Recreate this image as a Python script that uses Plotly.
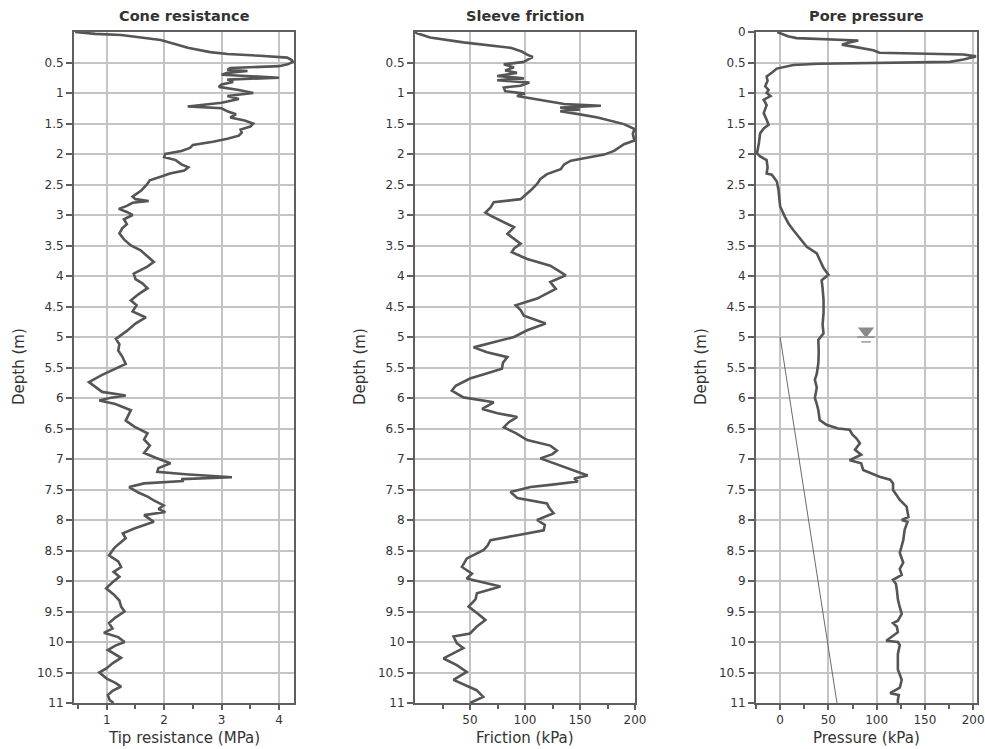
import plotly.graph_objects as go

# ---------------- data ----------------
cone_depth = [0.00,0.03,0.05,0.08,0.13,0.20,0.26,0.33,0.36,0.39,0.42,0.46,0.49,0.53,0.56,0.59,0.62,0.64,0.67,0.70,
              0.72,0.75,0.78,0.82,0.86,0.90,0.95,1.00,1.05,1.10,1.16,1.22,1.25,1.30,1.35,1.40,1.45,1.50,1.55,1.60,
              1.65,1.70,1.75,1.80,1.85,1.90,1.95,2.00,2.05,2.10,2.17,2.22,2.27,2.32,2.37,2.43,2.50,2.60,2.70,2.74,
              2.77,2.80,2.85,2.90,2.95,3.00,3.07,3.15,3.22,3.30,3.40,3.50,3.58,3.68,3.77,3.85,3.96,4.05,4.12,4.20,
              4.30,4.40,4.48,4.58,4.68,4.78,4.90,5.03,5.12,5.22,5.32,5.44,5.52,5.62,5.74,5.82,5.90,5.96,6.00,6.04,
              6.10,6.20,6.28,6.37,6.47,6.58,6.68,6.78,6.90,6.98,7.07,7.15,7.21,7.25,7.30,7.33,7.36,7.40,7.46,7.55,
              7.62,7.68,7.76,7.82,7.87,7.92,8.03,8.10,8.14,8.22,8.30,8.40,8.46,8.58,8.68,8.77,8.85,8.93,9.02,9.12,
              9.22,9.32,9.42,9.50,9.60,9.69,9.78,9.85,9.92,10.00,10.06,10.13,10.20,10.26,10.35,10.43,10.50,10.60,
              10.67,10.73,10.80,10.87,10.95,11.00]
cone_qc = [0.45,0.8,1.25,1.5,1.94,2.2,2.41,2.8,3.1,3.67,4.14,4.22,4.24,4.15,4.0,3.15,3.1,3.45,3.1,3.0,
           3.5,4.0,3.1,3.2,3.0,2.95,3.3,3.55,3.1,3.3,3.0,2.41,3.0,3.1,3.25,3.15,3.4,3.55,3.5,3.33,
           3.35,3.3,3.1,2.85,2.5,2.45,2.3,2.02,2.0,2.2,2.3,2.42,2.35,2.1,1.95,1.75,1.7,1.6,1.45,1.5,
           1.73,1.45,1.35,1.21,1.35,1.45,1.3,1.35,1.27,1.22,1.3,1.42,1.59,1.72,1.82,1.7,1.47,1.5,1.62,1.71,
           1.55,1.42,1.52,1.45,1.68,1.5,1.35,1.16,1.22,1.2,1.27,1.33,1.15,0.92,0.69,0.8,0.92,1.33,1.05,0.87,
           1.15,1.42,1.38,1.33,1.48,1.71,1.65,1.75,1.65,1.85,2.11,1.9,1.88,2.37,3.18,2.3,2.34,1.65,1.39,1.55,
           1.72,1.82,1.99,1.9,2.02,1.65,1.82,1.6,1.48,1.28,1.33,1.2,1.13,1.04,1.2,1.25,1.12,1.22,1.1,0.99,
           1.12,1.22,1.25,1.31,1.15,1.04,1.1,0.95,1.2,1.31,1.15,1.02,1.15,1.25,1.1,1.0,0.87,1.0,
           1.15,1.25,1.1,1.02,1.05,1.12]

fric_depth = [0.00,0.02,0.09,0.17,0.26,0.32,0.37,0.41,0.45,0.49,0.53,0.58,0.63,0.67,0.72,0.76,0.79,0.83,0.88,0.91,
              0.97,1.01,1.05,1.09,1.18,1.21,1.24,1.27,1.30,1.35,1.40,1.51,1.59,1.67,1.78,1.84,1.95,2.01,2.11,2.17,
              2.25,2.33,2.41,2.49,2.60,2.74,2.79,2.88,2.96,3.01,3.12,3.20,3.31,3.42,3.47,3.55,3.61,3.72,3.83,3.92,
              3.99,4.10,4.21,4.37,4.48,4.56,4.65,4.78,4.89,5.00,5.10,5.17,5.25,5.33,5.42,5.52,5.60,5.68,5.80,5.88,
              5.99,6.07,6.18,6.25,6.31,6.40,6.48,6.58,6.69,6.78,6.86,6.92,6.99,7.06,7.13,7.20,7.27,7.32,7.37,7.42,
              7.46,7.54,7.64,7.73,7.80,7.89,8.00,8.08,8.17,8.25,8.33,8.42,8.49,8.63,8.77,8.88,8.96,9.09,9.20,9.30,
              9.42,9.55,9.64,9.75,9.86,9.91,10.02,10.10,10.18,10.27,10.38,10.49,10.62,10.70,10.79,10.90,11.00]
fric_fs = [0,2,13.7,44,87,97,102,107,103,99,80.7,90,82,92.7,74.7,99,74.7,104,96,80.7,
           82,100,92.7,105,135.6,169,132,150,132,150,166,190,199.5,198,199.5,190,181,172,141.7,135.6,
           132.5,120,114,111,105,96,71.6,68.6,64,68.6,80.7,90,84,93,96,90,88,102,123,131,
           137,123,128,111,91.5,96,99,118.8,102,90,68,53.3,65.5,84,80,79,65,50,37,33.5,
           44,71.6,61,75,93,85,80.7,92,102,123,129,125,114,125,135.6,145,157,144.7,148,125,
           105,86.8,93,120,122,126,111,118,117,93,68.6,66,62.5,47.2,42.7,51.8,47,77.7,56.3,55,
           48.7,58,64,56,50,35,38,44,35,25.9,38,47,35,45,56,62,50]

pore_depth = [0.00,0.03,0.07,0.10,0.12,0.13,0.14,0.17,0.21,0.24,0.30,0.34,0.35,0.37,0.40,0.45,0.49,0.50,0.52,0.54,
              0.60,0.66,0.73,0.80,0.89,0.95,1.00,1.05,1.11,1.20,1.28,1.33,1.44,1.52,1.58,1.66,1.82,1.99,2.04,2.10,
              2.22,2.32,2.34,2.45,2.59,2.72,2.86,3.03,3.15,3.25,3.35,3.41,3.52,3.63,3.79,3.87,3.98,4.07,4.20,4.39,
              4.60,4.80,4.94,5.05,5.25,5.43,5.60,5.70,5.83,6.00,6.10,6.20,6.36,6.44,6.50,6.52,6.60,6.66,6.74,6.85,
              6.93,7.02,7.07,7.18,7.29,7.34,7.40,7.51,7.60,7.67,7.78,7.95,8.00,8.03,8.16,8.33,8.54,8.70,8.80,8.90,
              8.98,9.05,9.15,9.30,9.43,9.54,9.65,9.69,9.75,9.84,9.98,10.00,10.05,10.20,10.30,10.45,10.62,10.75,10.84,10.87,
              10.95,11.00]
pore_u = [-3,2,8,17,60,70,81,72,64,76,96.5,103,145,190,203,190,176,117,40,13.8,
          -3.5,-8,-14,-13,-15.5,-12,-14,-10,-17,-14,-15.5,-17,-14,-12,-17,-20.7,-22,-24,-20.7,-14,
          -13,-14,-8.6,-3.4,-1.7,-1,0,5,9,13.8,19,22,27.6,38,43,45,50,43,44,45,
          45,44,45,39.6,40,39.6,38,36,38,36,38,39.6,41,48,60,72,75,79,82.7,77.6,
          84,72,84,86,103,114,117,117,121,124,131,133,126,132,129,127.6,124,127.6,124,126,
          117,120,121,122,124,126,122,117,121,122,110,122,124,122,122,122,126,124,114,123,
          122,122]

# hydrostatic line and water table marker
hydro_depth = [5.0, 11.0]
hydro_u = [0.0, 58.9]
water_table_depth = 5.0
water_marker_u = 89.0

depth_ticks_a = [0.5 * i for i in range(1, 23)]
depth_ticks_b = [0.5 * i for i in range(0, 23)]
cone_ticks = [1, 2, 3, 4]
fric_ticks = [50, 100, 150, 200]
pore_ticks = [0, 50, 100, 150, 200]

titles = ["Cone resistance", "Sleeve friction", "Pore pressure"]
xtitles = ["Tip resistance (MPa)", "Friction (kPa)", "Pressure (kPa)"]

# ---------------- style ----------------
W, H = 985, 749
FONT = "DejaVu Sans"
TXT = "#333333"
LINE = "#555555"
GRID = "#c4c4c4"
AX = "#5f5f5f"

panels_px = [(74, 294), (415, 635), (756, 977)]
top_px, bot_px = 32, 703
ydom = [1 - bot_px / H, 1 - top_px / H]

fig = go.Figure()
fig.add_trace(go.Scatter(x=cone_qc, y=cone_depth, mode="lines", line=dict(color=LINE, width=2.6),
                         xaxis="x", yaxis="y", showlegend=False))
fig.add_trace(go.Scatter(x=fric_fs, y=fric_depth, mode="lines", line=dict(color=LINE, width=2.6),
                         xaxis="x2", yaxis="y2", showlegend=False))
fig.add_trace(go.Scatter(x=hydro_u, y=hydro_depth, mode="lines", line=dict(color="#6a6a6a", width=1),
                         xaxis="x3", yaxis="y3", showlegend=False))
fig.add_trace(go.Scatter(x=pore_u, y=pore_depth, mode="lines", line=dict(color=LINE, width=2.6),
                         xaxis="x3", yaxis="y3", showlegend=False))
# water table symbol
fig.add_trace(go.Scatter(x=[water_marker_u], y=[water_table_depth - 0.1], mode="markers",
                         marker=dict(symbol="triangle-down", size=14, color="#8a8a8a"),
                         xaxis="x3", yaxis="y3", showlegend=False))
fig.add_trace(go.Scatter(x=[water_marker_u - 9, water_marker_u + 9], y=[water_table_depth, water_table_depth],
                         mode="lines", line=dict(color="#9a9a9a", width=2),
                         xaxis="x3", yaxis="y3", showlegend=False))
fig.add_trace(go.Scatter(x=[water_marker_u - 5, water_marker_u + 5],
                         y=[water_table_depth + 0.08, water_table_depth + 0.08],
                         mode="lines", line=dict(color="#9a9a9a", width=1.5),
                         xaxis="x3", yaxis="y3", showlegend=False))

tickfont = dict(family=FONT, size=12, color=TXT)


def xaxis(dom, rng, ticks, minor_dtick, minor_start):
    return dict(domain=dom, range=rng, tickvals=ticks, ticks="outside", ticklen=5, tickwidth=1.5,
                tickcolor=AX, showgrid=True, gridcolor=GRID, gridwidth=1.5, zeroline=False,
                showline=True, linecolor=AX, linewidth=2, mirror=True, tickfont=tickfont,
                minor=dict(tick0=minor_start, dtick=minor_dtick, ticks="outside", ticklen=4,
                           tickwidth=1.5, tickcolor=AX, showgrid=False),
                automargin=False, fixedrange=True)


def yaxis(anchor, ticks):
    return dict(domain=ydom, range=[11, 0], tickvals=ticks, ticks="outside", ticklen=6, tickwidth=1.5,
                tickcolor=AX, showgrid=True, gridcolor=GRID, gridwidth=1.5, zeroline=False,
                showline=True, linecolor=AX, linewidth=2, mirror=True, tickfont=tickfont,
                anchor=anchor, automargin=False, fixedrange=True)


doms = [[a / W, b / W] for a, b in panels_px]
layout = dict(
    width=W, height=H, margin=dict(l=0, r=0, t=0, b=0, pad=0),
    paper_bgcolor="white", plot_bgcolor="white",
    xaxis=xaxis(doms[0], [0.43, 4.26], cone_ticks, 1, 0.5),
    xaxis2=xaxis(doms[1], [0, 200], fric_ticks, 50, 25),
    xaxis3=xaxis(doms[2], [-25, 204], pore_ticks, 50, 25),
    yaxis=yaxis("x", depth_ticks_a),
    yaxis2=yaxis("x2", depth_ticks_a),
    yaxis3=yaxis("x3", depth_ticks_b),
)
layout["xaxis"]["anchor"] = "y"
layout["xaxis2"]["anchor"] = "y2"
layout["xaxis3"]["anchor"] = "y3"

annotations = []
ylab_x = [19, 360, 701]
for i, (a, b) in enumerate(panels_px):
    cx = (a + b) / 2 / W
    annotations.append(dict(text="<b>%s</b>" % titles[i], x=cx, y=1 - 16 / H, xref="paper", yref="paper",
                            showarrow=False, xanchor="center", yanchor="middle",
                            font=dict(family=FONT, size=14.5, color=TXT)))
    annotations.append(dict(text=xtitles[i], x=cx, y=1 - 738 / H, xref="paper", yref="paper",
                            showarrow=False, xanchor="center", yanchor="middle",
                            font=dict(family=FONT, size=15, color=TXT)))
    annotations.append(dict(text="Depth (m)", x=ylab_x[i] / W, y=1 - 367 / H, xref="paper", yref="paper",
                            showarrow=False, xanchor="center", yanchor="middle", textangle=-90,
                            font=dict(family=FONT, size=15, color=TXT)))
layout["annotations"] = annotations

fig.update_layout(**layout)
fig.write_html("out.html")
